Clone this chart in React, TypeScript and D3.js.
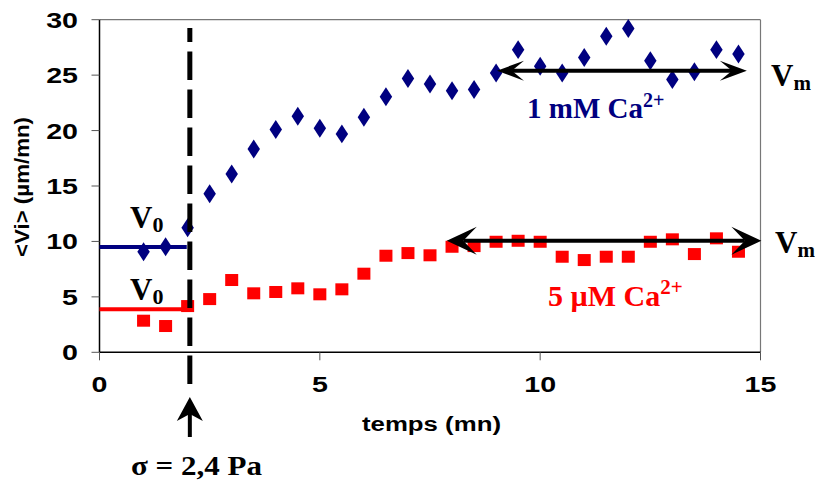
import React from "react";
import * as d3 from "d3";

const times = [1, 1.5, 2, 2.5, 3, 3.5, 4, 4.5, 5, 5.5, 6, 6.5, 7, 7.5, 8, 8.5, 9, 9.5, 10, 10.5, 11, 11.5, 12, 12.5, 13, 13.5, 14, 14.5];
const blue1mM = [9.07, 9.52, 11.24, 14.3, 16.08, 18.33, 20.1, 21.3, 20.2, 19.7, 21.2, 23.05, 24.7, 24.2, 23.6, 23.7, 25.2, 27.3, 25.8, 25.2, 26.6, 28.5, 29.2, 26.3, 24.6, 25.3, 27.3, 26.9];
const red5uM = [2.85, 2.37, 4.17, 4.8, 6.52, 5.32, 5.44, 5.77, 5.23, 5.68, 7.09, 8.71, 8.95, 8.75, 9.52, 9.58, 9.97, 10.06, 9.97, 8.62, 8.32, 8.62, 8.62, 9.97, 10.19, 8.86, 10.28, 9.07];
const xTicks = [0, 5, 10, 15];
const yTicks = [0, 5, 10, 15, 20, 25, 30];
const v0Blue = 9.5;
const v0Red = 3.88;
const v0BlueEnd = 1.98;
const v0RedEnd = 2.12;
const stressTime = 2.05;
const vmBlue = { y: 25.4, x0: 9.02, x1: 14.69 };
const vmRed = { y: 10.07, x0: 7.88, x1: 15.02 };

const NAVY = "#000080";
const RED = "#FF0000";

const W = 815, H = 486;
const x = d3.scaleLinear().domain([0, 15]).range([99.5, 760.5]);
const y = d3.scaleLinear().domain([0, 30]).range([352.3, 19.7]);

function DoubleArrow({ x0, x1, yy, len, hw }: { x0: number; x1: number; yy: number; len: number; hw: number }) {
  const notch = len * 0.55;
  const left = `M${x0},${yy} L${x0 + len},${yy - hw} L${x0 + notch},${yy} L${x0 + len},${yy + hw} Z`;
  const right = `M${x1},${yy} L${x1 - len},${yy - hw} L${x1 - notch},${yy} L${x1 - len},${yy + hw} Z`;
  return (
    <g>
      <line x1={x0 + notch} x2={x1 - notch} y1={yy} y2={yy} stroke="#000" strokeWidth={4} />
      <path d={left} fill="#000" />
      <path d={right} fill="#000" />
    </g>
  );
}

const serif = "'Liberation Serif', 'Times New Roman', serif";
const sans = "'Liberation Sans', Arial, sans-serif";

export default function App() {
  const sx = x(stressTime);
  const diamond = d3.symbol().type(d3.symbolDiamond).size(115)();
  return (
    <svg width={W} height={H} style={{ position: "absolute", left: 0, top: 0, background: "#fff" }}>
      {/* frame */}
      <line x1={x(0)} x2={x(15)} y1={y(30)} y2={y(30)} stroke="#777" strokeWidth={1.2} />
      <line x1={x(15)} x2={x(15)} y1={y(30)} y2={y(0)} stroke="#777" strokeWidth={1.2} />
      <line x1={x(0)} x2={x(0)} y1={y(30)} y2={y(0)} stroke="#000" strokeWidth={1.5} />
      <line x1={x(0)} x2={x(15)} y1={y(0)} y2={y(0)} stroke="#000" strokeWidth={1.5} />
      {yTicks.map((t) => (
        <g key={"y" + t}>
          <line x1={x(0) - 8} x2={x(0)} y1={y(t)} y2={y(t)} stroke="#555" strokeWidth={1} />
          <text transform={`translate(78,${y(t) + 8}) scale(1.3,1)`} textAnchor="end" fontFamily={sans} fontWeight="bold" fontSize={22}>{t}</text>
        </g>
      ))}
      {xTicks.map((t) => (
        <g key={"x" + t}>
          <line x1={x(t)} x2={x(t)} y1={y(0)} y2={y(0) + 8} stroke="#555" strokeWidth={1} />
          <text transform={`translate(${x(t)},392) scale(1.3,1)`} textAnchor="middle" fontFamily={sans} fontWeight="bold" fontSize={22}>{t}</text>
        </g>
      ))}
      <text x={362} y={431} textLength={139} lengthAdjust="spacingAndGlyphs" fontFamily={sans} fontWeight="bold" fontSize={20}>temps (mn)</text>
      <text transform={`translate(29,257) rotate(-90)`} textLength={140} lengthAdjust="spacingAndGlyphs" fontFamily={sans} fontWeight="bold" fontSize={20}>{"<Vi> (µm/mn)"}</text>

      {/* series */}
      {times.map((t, i) => (
        <path key={"b" + i} d={diamond!} transform={`translate(${x(t)},${y(blue1mM[i])}) scale(1.08,0.95)`} fill={NAVY} />
      ))}
      {times.map((t, i) => (
        <rect key={"r" + i} x={x(t) - 6.5} y={y(red5uM[i]) - 6} width={13} height={12} fill={RED} />
      ))}

      {/* V0 lines */}
      <line x1={x(0)} x2={x(v0BlueEnd)} y1={y(v0Blue)} y2={y(v0Blue)} stroke={NAVY} strokeWidth={4} />
      <line x1={x(0)} x2={x(v0RedEnd)} y1={y(v0Red)} y2={y(v0Red)} stroke={RED} strokeWidth={4} />

      {/* stress line */}
      <line x1={sx} x2={sx} y1={28} y2={384} stroke="#000" strokeWidth={5} strokeDasharray="28.5 9.5" strokeDashoffset={14.5} />
      <line x1={sx} x2={sx} y1={437} y2={412} stroke="#000" strokeWidth={4} />
      <path d={`M${sx},397 L${sx - 13},421 L${sx},414 L${sx + 13},421 Z`} fill="#000" />
      <text x={131} y={475} textLength={131} lengthAdjust="spacingAndGlyphs" fontFamily={serif} fontWeight="bold" fontSize={28}>σ = 2,4 Pa</text>

      {/* Vm arrows */}
      <DoubleArrow x0={x(vmBlue.x0)} x1={x(vmBlue.x1)} yy={y(vmBlue.y)} len={27} hw={10} />
      <DoubleArrow x0={x(vmRed.x0)} x1={x(vmRed.x1)} yy={y(vmRed.y)} len={30} hw={14} />

      {/* labels */}
      <text x={130} y={228} fontFamily={serif} fontWeight="bold" fontSize={31}>V<tspan fontSize={22} dy={4}>0</tspan></text>
      <text x={130} y={300} fontFamily={serif} fontWeight="bold" fontSize={31}>V<tspan fontSize={22} dy={4}>0</tspan></text>
      <text x={771} y={86} fontFamily={serif} fontWeight="bold" fontSize={31}>V<tspan fontSize={21} dy={4}>m</tspan></text>
      <text x={775} y={253} fontFamily={serif} fontWeight="bold" fontSize={31}>V<tspan fontSize={21} dy={4}>m</tspan></text>
      <text x={527} y={118} fontFamily={serif} fontWeight="bold" fontSize={29} fill={NAVY}>1 mM Ca<tspan fontSize={20} dy={-11}>2+</tspan></text>
      <text x={548} y={306} fontFamily={serif} fontWeight="bold" fontSize={30} fill={RED}>5 µM Ca<tspan fontSize={21} dy={-12}>2+</tspan></text>
    </svg>
  );
}
